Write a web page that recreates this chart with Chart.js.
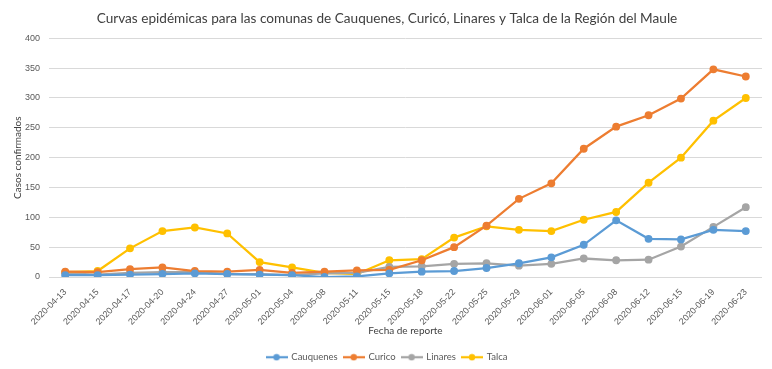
<!DOCTYPE html>
<html>
<head>
<meta charset="utf-8">
<script src="https://cdn.jsdelivr.net/npm/chart.js@4"></script>
<style>
    html, body { margin: 0; padding: 0; background: #fff; }
    #wrap { width: 772px; height: 369px; }
</style>
</head>
<body>
<div id="wrap"><canvas id="curvas"></canvas></div>
<script>
const fechas = ['2020-04-13', '2020-04-15', '2020-04-17', '2020-04-20', '2020-04-24', '2020-04-27', '2020-05-01', '2020-05-04',
    '2020-05-08', '2020-05-11', '2020-05-15', '2020-05-18', '2020-05-22', '2020-05-25', '2020-05-29', '2020-06-01',
    '2020-06-05', '2020-06-08', '2020-06-12', '2020-06-15', '2020-06-19', '2020-06-23'];

const cauquenes = [3, 3, 4, 5, 6, 5, 4, 3, 0, 1, 6, 9, 10, 15, 23, 33, 54, 95, 64, 63, 79, 77];
const curico = [9, 8, 13, 16, 10, 9, 12, 7, 9, 11, 12, 28, 50, 86, 131, 157, 215, 252, 271, 299, 348, 336];
const linares = [6, 4, 7, 8, 8, 5, 5, 3, 6, 7, 17, 18, 22, 23, 19, 22, 31, 28, 29, 51, 84, 117];
const talca = [8, 10, 48, 77, 83, 73, 25, 16, 7, 5, 28, 30, 66, 85, 79, 77, 96, 109, 158, 200, 262, 300];

const comunas = ['Cauquenes', 'Curico', 'Linares', 'Talca'];
const colores = ['#5b9bd5', '#ed7d31', '#a5a5a5', '#ffc000'];

// little line + dot marker for the legend, like the spreadsheet one
function marcaLeyenda(color) {
    const c = document.createElement('canvas');
    c.width = 22;
    c.height = 8;
    const ctx = c.getContext('2d');
    ctx.strokeStyle = color;
    ctx.lineWidth = 2.25;
    ctx.beginPath();
    ctx.moveTo(0, 4);
    ctx.lineTo(22, 4);
    ctx.stroke();
    ctx.fillStyle = color;
    ctx.beginPath();
    ctx.arc(11, 4, 3.2, 0, Math.PI * 2);
    ctx.fill();
    return c;
}

const series = [cauquenes, curico, linares, talca];
const datasets = series.map((valores, i) => ({
    label: comunas[i],
    data: valores,
    borderColor: colores[i],
    backgroundColor: colores[i],
    borderWidth: 2.25,
    pointRadius: 2.8,
    pointHoverRadius: 2.8,
    pointStyle: 'circle',
    tension: 0
}));

const gris = '#595959';

new Chart(document.getElementById('curvas'), {
    type: 'line',
    data: { labels: fechas, datasets: datasets },
    options: {
        responsive: true,
        maintainAspectRatio: false,
        animation: false,
        layout: { padding: { left: 12, right: 10, top: 4, bottom: -3 } },
        plugins: {
            title: {
                display: true,
                text: 'Curvas epidémicas para las comunas de Cauquenes, Curicó, Linares y Talca de la Región del Maule',
                color: '#404040',
                font: { family: 'Lato', size: 13.6, weight: 'normal' },
                padding: { top: 6, bottom: 12 }
            },
            legend: {
                position: 'bottom',
                labels: {
                    usePointStyle: true,
                    pointStyleWidth: 20,
                    padding: 6,
                    color: gris,
                    font: { family: 'Lato', size: 9.5 },
                    generateLabels: function (chart) {
                        return chart.data.datasets.map((ds, i) => ({
                            text: ds.label,
                            fillStyle: ds.borderColor,
                            strokeStyle: ds.borderColor,
                            fontColor: gris,
                            lineWidth: 0,
                            pointStyle: marcaLeyenda(ds.borderColor),
                            datasetIndex: i,
                            hidden: false
                        }));
                    }
                }
            },
            tooltip: { enabled: false }
        },
        scales: {
            x: {
                offset: true,
                grid: { display: false },
                border: { display: false },
                ticks: {
                    color: gris,
                    font: { family: 'Liberation Sans', size: 9 },
                    minRotation: 45,
                    maxRotation: 45,
                    autoSkip: false,
                    padding: 2
                },
                title: {
                    display: true,
                    text: 'Fecha de reporte',
                    color: '#404040',
                    font: { family: 'Lato', size: 10 },
                    padding: { top: 4, bottom: 9.5 }
                },
                afterFit: function (scale) {
                    scale.height = 69.5;
                }
            },
            y: {
                min: 0,
                max: 400,
                grid: { color: '#d9d9d9', drawTicks: false },
                border: { display: false },
                ticks: {
                    stepSize: 50,
                    color: gris,
                    font: { family: 'Liberation Sans', size: 9 },
                    padding: 9
                },
                title: {
                    display: true,
                    text: 'Casos confirmados',
                    color: '#404040',
                    font: { family: 'Lato', size: 10 },
                    padding: { top: 0, bottom: 2 }
                },
                afterFit: function (scale) {
                    scale.width = 37;
                }
            }
        }
    }
});
</script>
</body>
</html>
